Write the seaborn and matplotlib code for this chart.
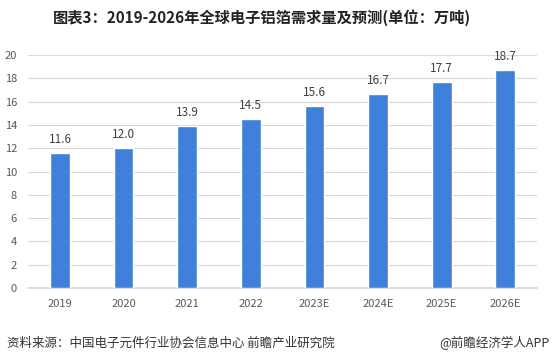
import pandas as pd
import matplotlib.pyplot as plt
import seaborn as sns

years = ['2019', '2020', '2021', '2022', '2023E', '2024E', '2025E', '2026E']
demand = [11.6, 12.0, 13.9, 14.5, 15.6, 16.7, 17.7, 18.7]

title = '图表3：2019-2026年全球电子铝箔需求量及预测(单位：万吨)'
source = '资料来源：中国电子元件行业协会信息中心 前瞻产业研究院'
credit = '@前瞻经济学人APP'


def main():
    sns.set_theme(style='white')
    plt.rcParams['font.family'] = ['Noto Sans CJK SC', 'DejaVu Sans']

    df = pd.DataFrame({'year': years, 'demand': demand})

    fig = plt.figure(figsize=(5.52, 3.6), dpi=100)
    ax = fig.add_axes([0.051, 0.2, 0.922, 0.647])
    sns.barplot(data=df, x='year', y='demand', color='#3F80DB', width=0.31,
                saturation=1, ax=ax, zorder=3)

    for i, v in enumerate(demand):
        ax.text(i, v + 0.6, f'{v:.1f}', ha='center', va='bottom',
                fontsize=8.5, color='#404040')

    ax.set_ylim(0, 20)
    ax.set_xlim(-0.5, 7.5)
    ax.set_yticks(range(0, 21, 2))
    ax.yaxis.grid(True, color='#D9D9D9', linewidth=0.8, zorder=0)
    ax.set_axisbelow(True)
    for s in ['top', 'right', 'left']:
        ax.spines[s].set_visible(False)
    ax.spines['bottom'].set_color('#D9D9D9')
    ax.set_xlabel('')
    ax.set_ylabel('')
    ax.tick_params(axis='both', length=0, labelsize=8, colors='#595959')
    ax.tick_params(axis='x', pad=8)
    ax.tick_params(axis='y', pad=8)

    fig.text(0.474, 0.952, title, ha='center', va='center', fontsize=11,
             fontweight='bold', color='#222222')
    fig.text(0.012, 0.047, source, ha='left', va='center', fontsize=9,
             color='#333333')
    fig.text(0.995, 0.047, credit, ha='right', va='center', fontsize=9,
             color='#333333')

    fig.savefig('out.png', dpi=100)
    plt.close(fig)


if __name__ == '__main__':
    main()
